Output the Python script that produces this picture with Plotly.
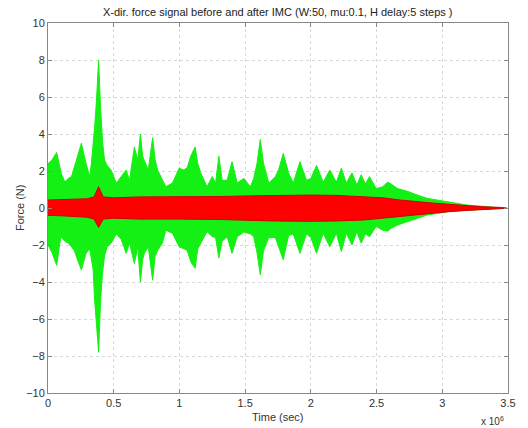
import plotly.graph_objects as go

# Time in units of 10^6 sec
t_green = [0.00, 0.03, 0.066, 0.09, 0.10, 0.128, 0.154, 0.179, 0.20, 0.23, 0.254, 0.29, 0.317, 0.33,
           0.343, 0.355, 0.368, 0.385, 0.40, 0.415, 0.43, 0.45, 0.48, 0.52, 0.557, 0.595, 0.62, 0.657,
           0.683, 0.703, 0.72, 0.733, 0.763, 0.796, 0.815, 0.834, 0.87, 0.897, 0.947, 0.998, 1.035,
           1.06, 1.086, 1.119, 1.14, 1.162, 1.21, 1.25, 1.275, 1.30, 1.325, 1.363, 1.40, 1.44, 1.49,
           1.54, 1.565, 1.59, 1.615, 1.64, 1.68, 1.73, 1.754, 1.79, 1.83, 1.866, 1.917, 1.967, 2.00,
           2.043, 2.094, 2.144, 2.194, 2.232, 2.27, 2.313, 2.35, 2.383, 2.415, 2.446, 2.497, 2.547,
           2.585, 2.61, 2.66, 2.736, 2.81, 2.887, 2.96, 3.04, 3.11, 3.19, 3.29, 3.416, 3.49]
green_upper = [2.4, 2.6, 3.0, 2.2, 1.9, 1.4, 1.6, 1.7, 2.2, 3.0, 3.5, 2.4, 1.7, 2.4,
               3.3, 4.4, 5.7, 8.0, 5.4, 3.6, 2.6, 2.3, 2.05, 1.35, 1.7, 2.05, 1.5, 3.3,
               2.6, 4.0, 2.8, 2.6, 2.05, 3.8, 2.6, 2.05, 1.5, 1.15, 1.35, 2.15, 2.05,
               2.2, 2.8, 3.3, 2.4, 1.9, 1.15, 1.7, 1.35, 2.8, 1.5, 1.5, 2.5, 1.35, 1.6,
               1.15, 1.6, 2.4, 3.7, 2.4, 1.35, 1.7, 2.05, 2.95, 1.9, 1.35, 2.5, 1.5, 1.6,
               2.3, 1.4, 2.05, 1.4, 2.15, 1.35, 1.9, 1.25, 1.8, 1.3, 1.7, 1.05, 1.15,
               1.4, 1.3, 1.05, 0.9, 0.7, 0.52, 0.43, 0.34, 0.25, 0.16, 0.1, 0.04, 0.02]
green_lower = [-2.0, -2.4, -3.1, -1.9, -1.55, -1.8, -1.9, -2.1, -2.3, -2.9, -3.35, -2.45, -2.2, -2.6,
               -3.3, -5.0, -6.2, -7.8, -5.0, -3.5, -2.6, -2.1, -1.9, -1.4, -1.7, -2.45, -1.9, -3.0,
               -2.1, -4.0, -2.8, -2.45, -2.1, -3.9, -2.6, -2.3, -1.9, -1.2, -1.37, -2.1, -2.2,
               -2.3, -2.9, -3.26, -2.2, -1.9, -1.28, -1.55, -1.6, -2.7, -1.8, -1.55, -2.45, -1.55, -1.3,
               -1.4, -1.55, -2.4, -3.6, -2.3, -1.6, -1.6, -2.1, -2.8, -1.5, -1.4, -2.45, -1.4, -1.6,
               -2.45, -1.37, -2.1, -1.37, -2.35, -1.37, -2.0, -1.28, -1.9, -1.4, -1.55, -1.0, -1.2,
               -1.25, -1.1, -0.92, -0.74, -0.56, -0.38, -0.29, -0.2, -0.15, -0.11, -0.07, -0.04, -0.02]

t_red = [0.0, 0.1, 0.2, 0.3, 0.35, 0.385, 0.42, 0.5, 0.7, 1.0, 1.3, 1.5, 1.7, 2.0, 2.2, 2.4,
         2.55, 2.68, 2.8, 2.94, 3.05, 3.19, 3.3, 3.45, 3.49]
red_upper = [0.43, 0.45, 0.45, 0.5, 0.6, 1.15, 0.6, 0.55, 0.6, 0.6, 0.62, 0.65, 0.68, 0.7, 0.68, 0.62,
             0.55, 0.43, 0.34, 0.26, 0.2, 0.12, 0.07, 0.03, 0.01]
red_lower = [-0.4, -0.42, -0.45, -0.5, -0.6, -1.05, -0.6, -0.55, -0.6, -0.6, -0.62, -0.65, -0.7, -0.72,
             -0.7, -0.65, -0.55, -0.45, -0.35, -0.28, -0.2, -0.13, -0.07, -0.03, -0.01]

x_ticks = [0, 0.5, 1, 1.5, 2, 2.5, 3, 3.5]
y_ticks = [-10, -8, -6, -4, -2, 0, 2, 4, 6, 8, 10]

fig = go.Figure()
fig.add_trace(go.Scatter(
    x=t_green + t_green[::-1], y=green_upper + green_lower[::-1],
    fill="toself", fillcolor="#14f014", mode="lines",
    line=dict(color="#14f014", width=1), hoverinfo="skip", showlegend=False))
fig.add_trace(go.Scatter(
    x=t_red + t_red[::-1], y=red_upper + red_lower[::-1],
    fill="toself", fillcolor="#ff0000", mode="lines",
    line=dict(color="#d00000", width=1), hoverinfo="skip", showlegend=False))

axis_common = dict(
    showline=True, linecolor="#888888", linewidth=1, mirror="ticks",
    ticks="inside", ticklen=4, tickcolor="#888888",
    showgrid=True, gridcolor="#d8d8d8", griddash="dot", gridwidth=1,
    zeroline=False, tickfont=dict(family="Liberation Sans, Arial", size=11, color="#333333"),
)

fig.update_layout(
    width=528, height=428,
    margin=dict(l=48, r=18, t=23, b=35),
    paper_bgcolor="white", plot_bgcolor="white",
    xaxis=dict(range=[0, 3.5], tickvals=x_ticks, ticktext=[str(v) for v in ["0", "0.5", "1", "1.5", "2", "2.5", "3", "3.5"]], **axis_common),
    yaxis=dict(range=[-10, 10], tickvals=y_ticks, **axis_common),
    annotations=[
        dict(text="X-dir. force signal before and after IMC (W:50, mu:0.1, H delay:5 steps )",
             xref="paper", yref="paper", x=0.5, y=1, yshift=11, xanchor="center", yanchor="middle",
             showarrow=False, font=dict(family="Liberation Sans, Arial", size=11, color="#222222")),
        dict(text="Time (sec)", xref="paper", yref="paper", x=0.5, y=0, yshift=-24,
             xanchor="center", yanchor="middle", showarrow=False,
             font=dict(family="Liberation Sans, Arial", size=11, color="#333333")),
        dict(text="Force (N)", xref="paper", yref="paper", x=0, y=0.5, xshift=-28,
             xanchor="center", yanchor="middle", textangle=-90, showarrow=False,
             font=dict(family="Liberation Sans, Arial", size=11, color="#333333")),
        dict(text="x 10<sup>6</sup>", xref="paper", yref="paper", x=1, y=0, xshift=-2, yshift=-28,
             xanchor="right", yanchor="middle", showarrow=False,
             font=dict(family="Liberation Sans, Arial", size=10, color="#333333")),
    ],
)

fig.write_html("out.html")
